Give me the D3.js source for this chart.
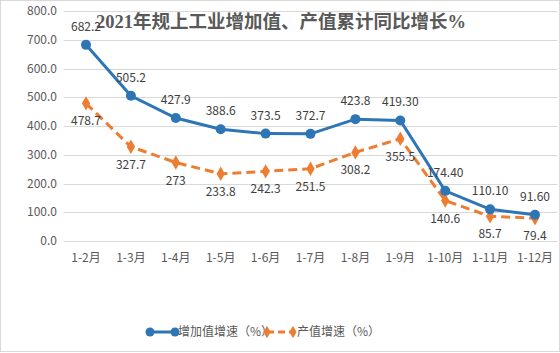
<!DOCTYPE html>
<html>
<head>
<meta charset="utf-8">
<script src="https://cdn.jsdelivr.net/npm/d3@7"></script>
<style>
  html, body { margin: 0; padding: 0; background: #fff; }
  svg { display: block; font-family: "Noto Sans CJK SC", "Noto Sans", sans-serif; }
</style>
</head>
<body>
<div id="chart"></div>
<script>
const months = ["1-2月", "1-3月", "1-4月", "1-5月", "1-6月", "1-7月", "1-8月", "1-9月", "1-10月", "1-11月", "1-12月"];
const addedValue = [682.2, 505.2, 427.9, 388.6, 373.5, 372.7, 423.8, 419.30, 174.40, 110.10, 91.60];
const addedLabels = ["682.2", "505.2", "427.9", "388.6", "373.5", "372.7", "423.8", "419.30", "174.40", "110.10", "91.60"];
const outputValue = [478.7, 327.7, 273, 233.8, 242.3, 251.5, 308.2, 355.5, 140.6, 85.7, 79.4];
const outputLabels = ["478.7", "327.7", "273", "233.8", "242.3", "251.5", "308.2", "355.5", "140.6", "85.7", "79.4"];
const yTicks = [0, 100, 200, 300, 400, 500, 600, 700, 800];

const title = "2021年规上工业增加值、产值累计同比增长%";
const seriesNames = ["增加值增速（%）", "产值增速（%）"];

const W = 560, H = 353;
const blue = "#2E75B6", orange = "#ED7D31";
const textColor = "#595959", gridColor = "#d9d9d9";

const svg = d3.select("#chart").append("svg")
    .attr("width", W)
    .attr("height", H);

// outer border
svg.append("rect")
    .attr("x", 0.5).attr("y", 0.5)
    .attr("width", W - 1).attr("height", H - 2)
    .attr("fill", "#fff")
    .attr("stroke", gridColor);

const x = d3.scalePoint()
    .domain(months)
    .range([86, 535]);

const y = d3.scaleLinear()
    .domain([0, 800])
    .range([241, 11]);

const plotLeft = 63.5, plotRight = 557.5;

// gridlines
svg.append("g")
    .selectAll("line")
    .data(yTicks)
    .join("line")
    .attr("x1", plotLeft)
    .attr("x2", plotRight)
    .attr("y1", d => Math.round(y(d)) + 0.5)
    .attr("y2", d => Math.round(y(d)) + 0.5)
    .attr("stroke", gridColor)
    .attr("stroke-width", 1);

// y labels
svg.append("g")
    .selectAll("text")
    .data(yTicks)
    .join("text")
    .attr("x", 57)
    .attr("y", d => y(d))
    .attr("dy", "0.35em")
    .attr("text-anchor", "end")
    .style("font-size", "12px")
    .style("fill", textColor)
    .text(d => d.toFixed(1));

// x labels
svg.append("g")
    .selectAll("text")
    .data(months)
    .join("text")
    .attr("x", d => x(d))
    .attr("y", 262)
    .attr("text-anchor", "middle")
    .style("font-size", "12px")
    .style("fill", textColor)
    .text(d => d);

// title
svg.append("text")
    .attr("x", 281)
    .attr("y", 28)
    .attr("text-anchor", "middle")
    .style("font-family", "'Liberation Serif', 'Noto Sans CJK SC', serif")
    .style("font-size", "18.5px")
    .style("font-weight", "700")
    .style("fill", "#595959")
    .text(title);

const line = d3.line()
    .x((d, i) => x(months[i]))
    .y(d => y(d));

// orange series (dashed, diamonds)
svg.append("path")
    .datum(outputValue)
    .attr("d", line)
    .attr("fill", "none")
    .attr("stroke", orange)
    .attr("stroke-width", 3)
    .attr("stroke-dasharray", "9,5");

const diamond = d3.symbol().type(d3.symbolDiamond).size(60);

svg.append("g")
    .selectAll("path")
    .data(outputValue)
    .join("path")
    .attr("d", diamond)
    .attr("transform", (d, i) => `translate(${x(months[i])},${y(d)})`)
    .attr("fill", orange);

// blue series (solid, circles)
svg.append("path")
    .datum(addedValue)
    .attr("d", line)
    .attr("fill", "none")
    .attr("stroke", blue)
    .attr("stroke-width", 3);

svg.append("g")
    .selectAll("circle")
    .data(addedValue)
    .join("circle")
    .attr("cx", (d, i) => x(months[i]))
    .attr("cy", d => y(d))
    .attr("r", 5)
    .attr("fill", blue);

// data labels
svg.append("g")
    .selectAll("text")
    .data(addedValue)
    .join("text")
    .attr("x", (d, i) => x(months[i]))
    .attr("y", d => y(d) - 14)
    .attr("text-anchor", "middle")
    .style("font-size", "12px")
    .style("fill", "#404040")
    .text((d, i) => addedLabels[i]);

svg.append("g")
    .selectAll("text")
    .data(outputValue)
    .join("text")
    .attr("x", (d, i) => x(months[i]))
    .attr("y", d => y(d) + 22)
    .attr("text-anchor", "middle")
    .style("font-size", "12px")
    .style("fill", "#404040")
    .text((d, i) => outputLabels[i]);

// legend
const legend = svg.append("g");
const ly = 332;

legend.append("line")
    .attr("x1", 150).attr("x2", 175)
    .attr("y1", ly).attr("y2", ly)
    .attr("stroke", blue).attr("stroke-width", 3);
legend.selectAll("circle")
    .data([150, 175])
    .join("circle")
    .attr("cx", d => d).attr("cy", ly).attr("r", 4.5)
    .attr("fill", blue);
legend.append("text")
    .attr("x", 178).attr("y", ly)
    .attr("dy", "0.35em")
    .style("font-size", "12px")
    .style("fill", textColor)
    .text(seriesNames[0]);

legend.append("line")
    .attr("x1", 267).attr("x2", 293)
    .attr("y1", ly).attr("y2", ly)
    .attr("stroke", orange).attr("stroke-width", 3)
    .attr("stroke-dasharray", "7,4");
legend.selectAll("path")
    .data([267, 293])
    .join("path")
    .attr("d", d3.symbol().type(d3.symbolDiamond).size(45))
    .attr("transform", d => `translate(${d},${ly})`)
    .attr("fill", orange);
legend.append("text")
    .attr("x", 297).attr("y", ly)
    .attr("dy", "0.35em")
    .style("font-size", "12px")
    .style("fill", textColor)
    .text(seriesNames[1]);
</script>
</body>
</html>
